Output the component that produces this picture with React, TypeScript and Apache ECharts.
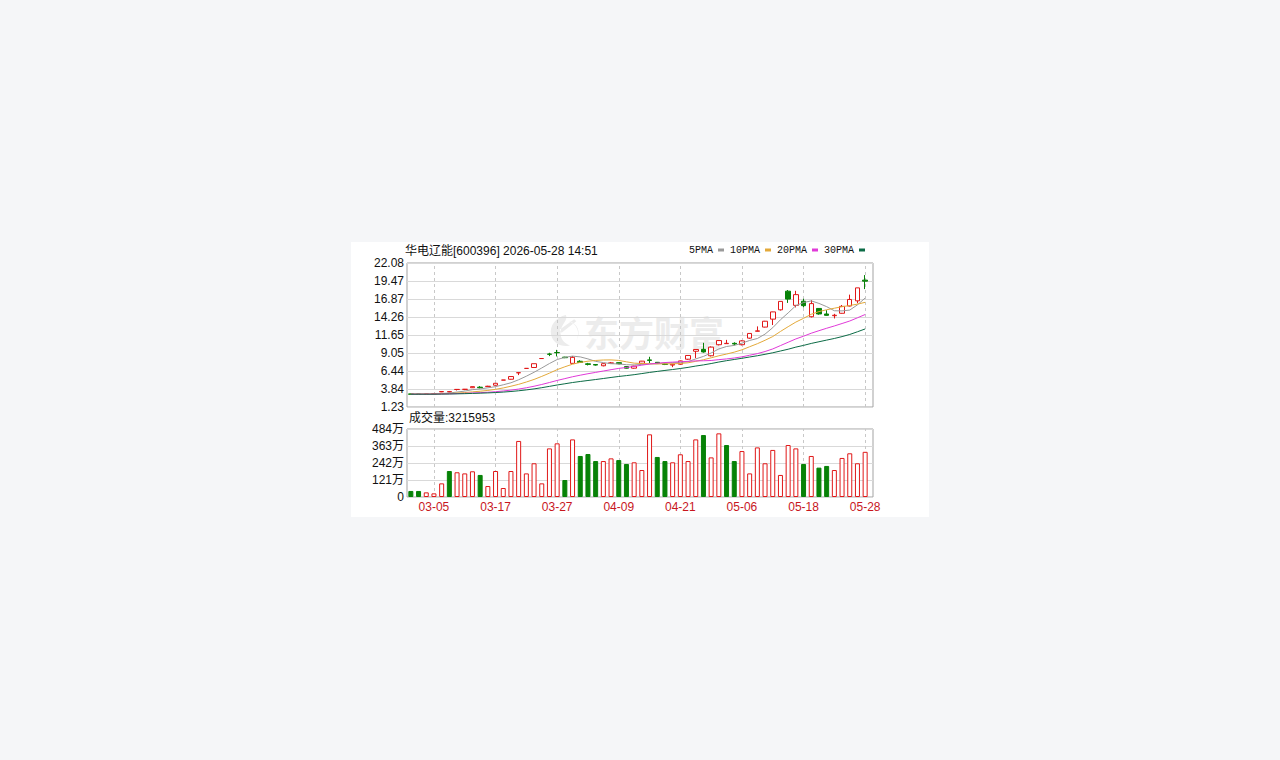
import React, { useEffect, useRef } from "react";
import * as echarts from "echarts";

const stockName = "华电辽能";
const stockCode = "600396";
const stamp = "2026-05-28 14:51";

const dates = [
  "03-02","03-03","03-04","03-05","03-06","03-09","03-10","03-11","03-12","03-13",
  "03-16","03-17","03-18","03-19","03-20","03-23","03-24","03-25","03-26","03-27",
  "03-30","03-31","04-01","04-02","04-03","04-07","04-08","04-09","04-10","04-13",
  "04-14","04-15","04-16","04-17","04-20","04-21","04-22","04-23","04-24","04-27",
  "04-28","04-29","04-30","05-06","05-07","05-08","05-11","05-12","05-13","05-14",
  "05-15","05-18","05-19","05-20","05-21","05-22","05-25","05-26","05-27","05-28",
];

const opens = [
  3.12, 3.10, 3.08, 3.12, 3.42, 3.40, 3.76, 3.78, 4.02, 4.10,
  4.18, 4.38, 5.13, 5.25, 6.18, 6.82, 6.95, 8.25, 8.90, 9.12,
  8.45, 7.55, 7.85, 7.48, 7.38, 7.20, 7.55, 7.65, 7.08, 6.85,
  7.56, 8.05, 7.70, 7.45, 7.30, 7.42, 8.15, 9.30, 9.58, 8.65,
  10.25, 10.40, 10.45, 10.25, 11.20, 12.20, 12.80, 13.95, 15.30, 18.00,
  15.95, 16.55, 14.30, 15.50, 14.70, 14.45, 14.80, 15.85, 16.60, 19.60,
];
const closes = [
  3.08, 3.07, 3.12, 3.15, 3.47, 3.46, 3.78, 3.80, 4.18, 4.02,
  4.24, 4.66, 5.13, 5.64, 6.20, 6.82, 7.50, 8.25, 8.86, 9.09,
  8.37, 8.42, 7.68, 7.40, 7.30, 7.50, 7.62, 7.50, 6.85, 7.15,
  7.87, 7.98, 7.58, 7.40, 7.42, 7.90, 8.69, 9.56, 9.20, 9.90,
  10.85, 10.45, 10.35, 10.80, 11.88, 12.25, 13.65, 15.00, 16.52, 16.85,
  17.50, 15.90, 16.20, 14.70, 14.50, 14.52, 15.80, 16.80, 18.48, 19.45,
];
const lows = [
  3.05, 3.04, 3.06, 3.10, 3.38, 3.36, 3.62, 3.66, 3.98, 3.92,
  4.12, 4.32, 5.13, 5.20, 5.85, 6.82, 6.90, 8.25, 8.60, 8.55,
  8.30, 7.53, 7.62, 7.25, 7.22, 7.12, 7.45, 7.42, 6.80, 6.78,
  7.50, 7.60, 7.50, 7.30, 7.00, 7.35, 8.05, 8.30, 9.10, 8.55,
  10.15, 10.35, 10.15, 10.15, 11.10, 12.18, 12.75, 13.10, 15.20, 16.30,
  15.65, 15.65, 14.20, 14.60, 14.45, 14.05, 14.75, 15.80, 16.25, 18.30,
];
const highs = [
  3.15, 3.13, 3.14, 3.18, 3.47, 3.55, 3.80, 3.84, 4.18, 4.25,
  4.30, 4.66, 5.13, 5.64, 6.20, 6.82, 7.50, 8.25, 9.08, 9.50,
  8.50, 8.60, 8.00, 7.62, 7.45, 7.55, 7.75, 7.70, 7.12, 7.20,
  7.90, 8.50, 7.75, 7.55, 7.48, 7.95, 8.69, 9.56, 10.52, 10.00,
  10.89, 10.95, 10.60, 10.90, 11.88, 12.90, 13.70, 15.02, 16.52, 18.17,
  18.05, 16.90, 16.70, 15.55, 15.25, 14.72, 16.00, 17.50, 18.48, 20.33,
];
// closes of the 29 sessions before the window (for the moving averages)
const priorCloses = [
  3.02, 3.05, 3.08, 3.04, 3.06, 3.10, 3.08, 3.05, 3.03, 3.06,
  3.09, 3.11, 3.08, 3.06, 3.04, 3.07, 3.10, 3.12, 3.09, 3.07,
  3.05, 3.08, 3.11, 3.13, 3.10, 3.08, 3.11, 3.14, 3.12,
];
// volume in 万 shares
const volumes = [
  43, 43, 33, 26, 97, 185, 176, 168, 183, 157,
  78, 185, 64, 185, 399, 168, 240, 97, 346, 382,
  121, 410, 292, 306, 256, 256, 275, 263, 235, 247,
  192, 446, 285, 256, 247, 304, 256, 410, 441, 282,
  453, 370, 256, 327, 168, 353, 240, 335, 157, 370,
  346, 235, 292, 209, 221, 192, 278, 311, 240, 321.5953,
];

const priceTicks = [1.23, 3.84, 6.44, 9.05, 11.65, 14.26, 16.87, 19.47, 22.08];
const volumeTicks = [0, 121, 242, 363, 484];
const maPeriods = [5, 10, 20, 30];
const maNames = ["5PMA", "10PMA", "20PMA", "30PMA"];
const maColors = ["#9a9a9a", "#e3a93a", "#e03ad8", "#0c6b46"];

const UP = "#e01818";
const DOWN = "#078207";
const FONT = "'Liberation Sans', Arial, 'Noto Sans CJK SC', sans-serif";

const logoPath =
  "M16 0 C7 2 0 10 2 19 C4 27 12 31 20 29 C13 27 9 20 12 12 C14 7 18 4 16 0 Z M19 6 C27 9 30 17 26 25 C31 16 27 8 19 6 Z M10 14 L24 4 L26 6 L12 17 Z";
echarts.graphic.registerShape("emLogo", echarts.graphic.extendPath(logoPath, {}));

export default function App() {
  const ref = useRef<HTMLDivElement>(null);

  useEffect(() => {
    const el = ref.current;
    if (!el) return;
    const chart = echarts.init(el, null, { renderer: "svg" });

    const all = priorCloses.concat(closes);
    const off = priorCloses.length;
    const maData = maPeriods.map((n) =>
      closes.map((_, i) => {
        let s = 0;
        for (let k = 0; k < n; k++) s += all[off + i - k];
        return +(s / n).toFixed(3);
      })
    );

    const candleData = dates.map((_, i) => [opens[i], closes[i], lows[i], highs[i]]);
    const volData = volumes.map((v, i) => {
      const prev = i === 0 ? priorCloses[priorCloses.length - 1] : closes[i - 1];
      const up = closes[i] >= prev;
      return {
        value: v,
        itemStyle: up
          ? { color: "#ffffff", borderColor: UP, borderWidth: 1 }
          : { color: DOWN, borderColor: DOWN, borderWidth: 1 },
      };
    });

    const last = dates.length - 1;
    const showIdx = (idx: number) => (last - idx) % 8 === 0;
    const gridDates = dates.filter((_, i) => showIdx(i));
    const vline = {
      silent: true,
      z: 1,
      symbol: ["none", "none"],
      label: { show: false },
      emphasis: { disabled: true },
      lineStyle: { color: "#c8c8c8", type: [3, 3], width: 1 },
      data: gridDates.map((d) => ({ xAxis: d })),
    };

    const left = 56;
    const wMain = 462;
    const wBg = 466;
    const pTop = 21, pH = 144;
    const vTop = 187, vH = 68;

    const option: any = {
      animation: false,
      grid: [
        { left, top: pTop, width: wBg, height: pH, show: true, borderColor: "#a3a3a3", borderWidth: 1, backgroundColor: "transparent" },
        { left, top: pTop, width: wMain, height: pH },
        { left, top: vTop, width: wBg, height: vH, show: true, borderColor: "#a3a3a3", borderWidth: 1, backgroundColor: "transparent" },
        { left, top: vTop, width: wMain, height: vH },
      ],
      xAxis: [
        { gridIndex: 0, type: "value", min: 0, max: 1, show: false },
        {
          gridIndex: 1, type: "category", data: dates, boundaryGap: true,
          axisLine: { show: false }, axisTick: { show: false }, axisLabel: { show: false }, splitLine: { show: false },
        },
        { gridIndex: 2, type: "value", min: 0, max: 1, show: false },
        {
          gridIndex: 3, type: "category", data: dates, boundaryGap: true,
          axisLine: { show: false }, axisTick: { show: false }, splitLine: { show: false },
          axisLabel: {
            interval: (idx: number) => showIdx(idx),
            color: "#c8161d", fontSize: 12, fontFamily: FONT, margin: 4,
          },
        },
      ],
      yAxis: [
        {
          gridIndex: 0, type: "value", min: priceTicks[0], max: priceTicks[priceTicks.length - 1],
          axisLine: { show: false },
          axisTick: { show: false, customValues: priceTicks },
          axisLabel: {
            customValues: priceTicks, formatter: (v: number) => v.toFixed(2),
            margin: 3, color: "#111", fontSize: 12, fontFamily: FONT,
          },
          splitLine: { show: true, lineStyle: { color: "#d9d9d9", width: 1 } },
        },
        {
          gridIndex: 1, type: "value", min: priceTicks[0], max: priceTicks[priceTicks.length - 1], show: false,
          splitLine: { show: false },
        },
        {
          gridIndex: 2, type: "value", min: volumeTicks[0], max: volumeTicks[volumeTicks.length - 1],
          interval: volumeTicks[1] - volumeTicks[0],
          axisLine: { show: false }, axisTick: { show: false },
          axisLabel: {
            formatter: (v: number) => (v === 0 ? "0" : v + "万"),
            margin: 3, color: "#111", fontSize: 12, fontFamily: FONT,
          },
          splitLine: { show: true, lineStyle: { color: "#d9d9d9", width: 1 } },
        },
        {
          gridIndex: 3, type: "value", min: volumeTicks[0], max: volumeTicks[volumeTicks.length - 1], show: false,
          splitLine: { show: false },
        },
      ],
      legend: {
        data: maNames,
        left: 338,
        top: 3,
        padding: 0,
        icon: "rect",
        itemWidth: 6,
        itemHeight: 3,
        itemGap: 6,
        align: "right",
        selectedMode: false,
        textStyle: { fontFamily: "'Liberation Mono', monospace", fontSize: 10, color: "#111" },
      },
      graphic: [
        {
          type: "emLogo", x: 198, y: 73, scaleX: 1.05, scaleY: 1.05, z: 0, silent: true,
          style: { fill: "#ececec" },
        },
        {
          type: "text", x: 233, y: 89, z: 0, silent: true,
          style: {
            text: "东方财富", fill: "#ececec", verticalAlign: "middle",
            font: "bold 35px 'Noto Sans CJK SC', sans-serif",
          },
        },
        {
          type: "text", x: 54, y: 9, silent: true,
          style: {
            text: `${stockName}[${stockCode}] ${stamp}`, fill: "#111", verticalAlign: "middle",
            font: `12px ${FONT}`,
          },
        },
        {
          type: "text", x: 58, y: 176, silent: true,
          style: {
            text: `成交量:${Math.round(volumes[last] * 10000)}`, fill: "#111", verticalAlign: "middle",
            font: `12px ${FONT}`,
          },
        },
      ],
      series: [
        {
          type: "candlestick",
          name: "K",
          xAxisIndex: 1,
          yAxisIndex: 1,
          data: candleData,
          barWidth: 5,
          itemStyle: { color: "#ffffff", color0: DOWN, borderColor: UP, borderColor0: DOWN, borderWidth: 1 },
          markLine: vline,
        },
        ...maNames.map((name, k) => ({
          type: "line",
          name,
          xAxisIndex: 1,
          yAxisIndex: 1,
          data: maData[k],
          symbol: "none",
          showSymbol: false,
          lineStyle: { width: 1, color: maColors[k] },
          itemStyle: { color: maColors[k] },
          z: 3,
        })),
        {
          type: "bar",
          name: "VOL",
          xAxisIndex: 3,
          yAxisIndex: 3,
          data: volData,
          barWidth: 5,
          markLine: vline,
        },
      ],
    };

    chart.setOption(option);
    return () => chart.dispose();
  }, []);

  return (
    <div style={{ position: "fixed", left: 0, top: 0, width: 1280, height: 760, background: "#f5f6f8" }}>
      <div
        ref={ref}
        style={{ position: "absolute", left: 351, top: 242, width: 578, height: 275, background: "#ffffff" }}
      />
    </div>
  );
}
